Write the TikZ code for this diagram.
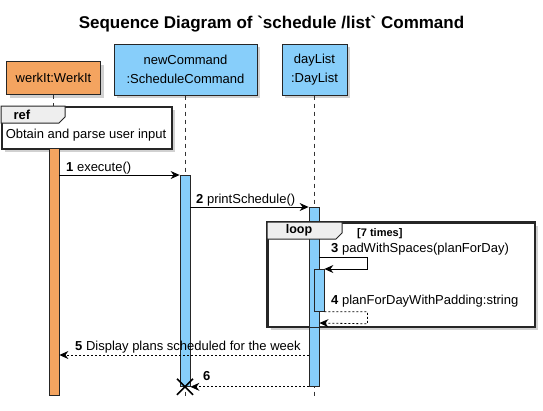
\documentclass[tikz,border=0pt]{standalone}
\usepackage{fontspec}
\setmainfont{Liberation Sans}
\usepackage{xcolor}
\usepackage{tikz}
\usetikzlibrary{arrows.meta,positioning,shadows}
\definecolor{partorange}{HTML}{F4A460}
\definecolor{partblue}{HTML}{87CEFA}
\definecolor{tabgrey}{HTML}{EEEEEE}
\tikzset{
  sshadow/.style={drop shadow={shadow xshift=3pt,shadow yshift=-3pt,fill=black!30,opacity=0.6}},
  spart/.style={draw=black!85,line width=1pt,align=center,inner sep=0pt,sshadow},
  sbar/.style={draw=black!85,line width=0.8pt,minimum width=10pt,inner sep=0pt,anchor=north},
  slife/.style={line width=0.6pt,draw=black!80,dash pattern=on 4pt off 4pt},
  sframe/.style={draw=black!85,fill=white,line width=1.5pt,inner sep=0pt,anchor=north west,sshadow},
  sborder/.style={draw=black!85,line width=1.5pt},
  stab/.style={draw=black!85,line width=1pt,fill=tabgrey},
  smsg/.style={-{Stealth[length=9pt,width=8pt,inset=3pt]},line width=0.8pt},
  sret/.style={smsg,dash pattern=on 2pt off 2pt},
  slabel/.style={anchor=base west,inner sep=0pt},
  sx/.style={line width=1.6pt}
}

\begin{document}
\begin{tikzpicture}[x=1pt,y=-1pt,font=\fontsize{13}{18.5}\selectfont]
  \useasboundingbox (0,0) rectangle (543,410);
  \node[font=\bfseries\fontsize{17}{20}\selectfont] (title) at (271.5,24) {Sequence Diagram of \textasciigrave schedule /list\textasciigrave{} Command};
  % participants
  \node[spart,fill=partorange,minimum width=94pt,minimum height=33pt] (werkit) at (53.5,78) {werkIt:WerkIt};
  \node[spart,fill=partblue,minimum width=143pt,minimum height=51pt] (newcmd) at (185.5,69.5) {newCommand\\:ScheduleCommand};
  \node[spart,fill=partblue,minimum width=65pt,minimum height=51pt] (daylist) at (314.5,69.5) {dayList\\:DayList};
  \coordinate (lend) at (0,398);
  \draw[slife] (werkit.south) -- (werkit.south |- lend);
  \draw[slife] (newcmd.south) -- (newcmd.south |- lend);
  \draw[slife] (daylist.south) -- (daylist.south |- lend);
  % ref frame
  \node[sframe,minimum width=170pt,minimum height=42pt] (refbox) at (1,106) {};
  \draw[stab] (refbox.north west) -- ++(64,0) -- ++(0,11) -- ++(-6,6) -- ++(-58,0) -- cycle;
  \node[font=\bfseries\fontsize{13}{15}\selectfont] (reflabel) at (22,114.5) {ref};
  \node (reftext) at (86,135) {Obtain and parse user input};
  % loop frame (border and tab go over the bars)
  \node[sframe,minimum width=267pt,minimum height=104pt] (loopbox) at (267,222) {};
  % activations
  \node[sbar,fill=partorange,minimum height=247pt] (actW) at (54,148) {};
  \node[sbar,fill=partblue,minimum height=211pt] (actN) at (185,175) {};
  \node[sbar,fill=partblue,minimum height=179pt] (actD) at (314,207) {};
  \node[sbar,fill=partblue,minimum height=42pt] (actDin) at (319,269) {};
  \draw[sborder] (loopbox.north west) rectangle (loopbox.south east);
  \draw[stab] (loopbox.north west) -- ++(75,0) -- ++(0,11) -- ++(-6,6) -- ++(-69,0) -- cycle;
  \node[font=\bfseries\fontsize{12.5}{15}\selectfont] (looplabel) at (299,230.5) {loop};
  \node[slabel,font=\bfseries\fontsize{11}{13}\selectfont] (loopcond) at (357,236) {[7 times]};
  % messages
  \draw[smsg] (actW.east |- actN.north) -- (actN.north west);
  \node[slabel] (l1) at (66,171) {\textbf{1} execute()};
  \draw[smsg] (actN.east |- actD.north) -- (actD.north west);
  \node[slabel] (l2) at (196,203) {\textbf{2} printSchedule()};
  \draw[smsg] (actD.east |- 0,257) -- ++(48,0) -- ++(0,12) -- (actDin.north east);
  \node[slabel] (l3) at (331,252) {\textbf{3} padWithSpaces(planForDay)};
  \draw[sret] (actDin.south east) -- ++(43,0) -- ++(0,12) -- (actD.east |- 0,323);
  \node[slabel] (l4) at (331,304) {\textbf{4} planForDayWithPadding:string};
  \draw[sret] (actD.west |- 0,355) -- (actW.east |- 0,355);
  \node[slabel] (l5) at (75,350) {\textbf{5} Display plans scheduled for the week};
  \draw[sret] (actD.south west) -- (actN.south east);
  \node[slabel] (l6) at (203,380) {\textbf{6}};
  \draw[sx] (actN.south) +(-8,-8) -- +(8,8) (actN.south) +(-8,8) -- +(8,-8);
\end{tikzpicture}
\end{document}
